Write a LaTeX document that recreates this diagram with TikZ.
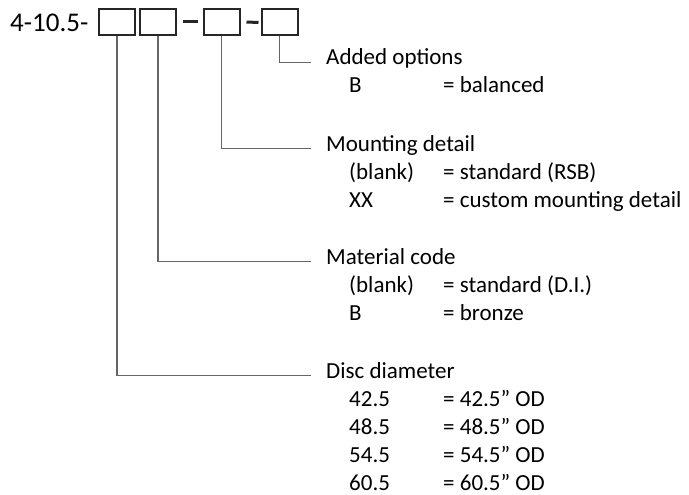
\documentclass[tikz,border=0pt]{standalone}
\usepackage{fontspec}
\setmainfont{Carlito}
\usepackage{tikz}

\begin{document}
\begin{tikzpicture}[x=1pt,y=-1pt,
  codebox/.style={draw=black!85, line width=2pt, minimum width=36pt, minimum height=26pt, inner sep=0pt},
  dashbar/.style={draw=black!85, line width=3pt},
  lead/.style={draw=black!60, line width=1.2pt},
  head/.style={anchor=base west, inner xsep=15pt, inner ysep=0pt, font=\fontsize{23}{28}\selectfont},
  item/.style={anchor=base west, inner sep=0pt, font=\fontsize{23}{28}\selectfont}]
\useasboundingbox (0,0) rectangle (689,495);
\node[anchor=base west, inner sep=0pt, font=\fontsize{27}{32}\selectfont] (pn) at (10,32) {4-10.5-}; % part number
\node[codebox] (diaBox) at (117,22) {}; % disc diameter
\node[codebox] (matBox) at (158,22) {}; % material code
\node[codebox] (mntBox) at (221.5,22) {}; % mounting detail
\node[codebox] (optBox) at (279.5,22.5) {}; % added options
\draw[dashbar] ([xshift=6pt]matBox.east) -- ([xshift=-5pt]mntBox.west) ; % dash1
\draw[dashbar] ([xshift=6pt]mntBox.east) -- ([xshift=-2pt]optBox.west) ; % dash2

\node[head] (optTxt) at (311,65) {Added options};
\node[item] (optB) at (349,93) {B};
\node[item] (optBv) at (443,93) {= balanced};

\node[head] (mntTxt) at (311,151) {Mounting detail};
\node[item] (mntBl) at (349,179) {(blank)};
\node[item] (mntBlv) at (443,179) {= standard (RSB)};
\node[item] (mntXX) at (349,207) {XX};
\node[item] (mntXXv) at (443,207) {= custom mounting detail};

\node[head] (matTxt) at (311,264) {Material code};
\node[item] (matBl) at (349,292) {(blank)};
\node[item] (matBlv) at (443,292) {= standard (D.I.)};
\node[item] (matB) at (349,320) {B};
\node[item] (matBv) at (443,320) {= bronze};

\node[head] (diaTxt) at (311,378) {Disc diameter};
\node[item] (dia1) at (349,406) {42.5};
\node[item] (dia1v) at (443,406) {= 42.5” OD};
\node[item] (dia2) at (349,434) {48.5};
\node[item] (dia2v) at (443,434) {= 48.5” OD};
\node[item] (dia3) at (349,462) {54.5};
\node[item] (dia3v) at (443,462) {= 54.5” OD};
\node[item] (dia4) at (349,490) {60.5};
\node[item] (dia4v) at (443,490) {= 60.5” OD};

\draw[lead] (optBox.south) |- (optTxt.mid west) ; % options lead
\draw[lead] (mntBox.south) |- (mntTxt.mid west) ; % mounting lead
\draw[lead] (matBox.south) |- (matTxt.mid west) ; % material lead
\draw[lead] (diaBox.south) |- (diaTxt.mid west) ; % diameter lead
\end{tikzpicture}
\end{document}
